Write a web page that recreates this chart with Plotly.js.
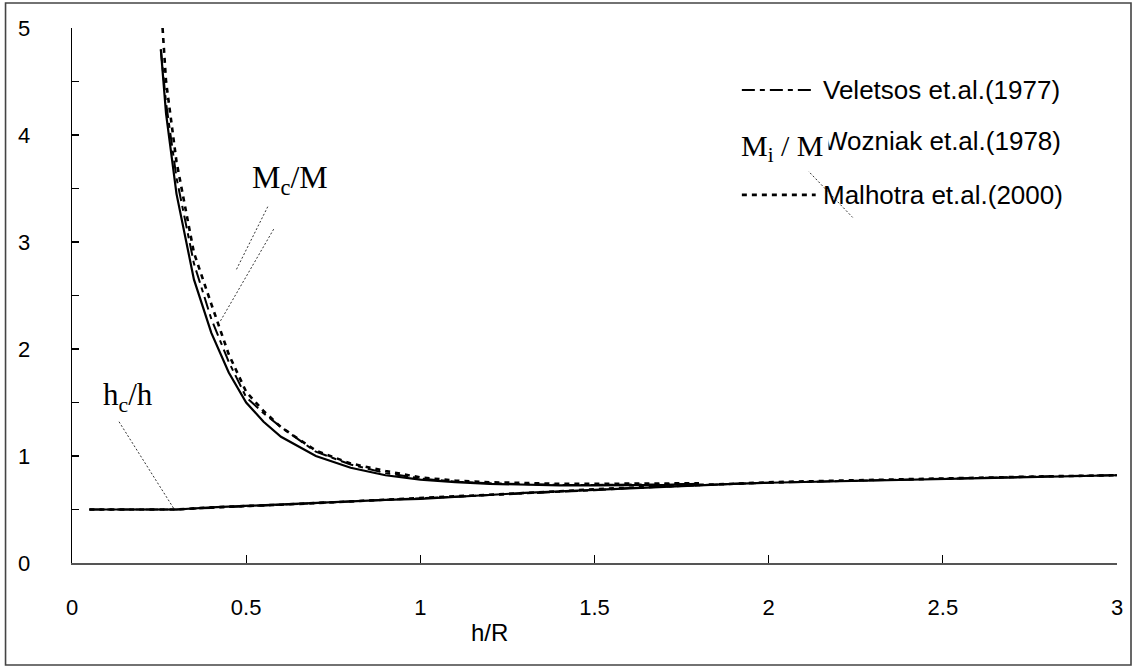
<!DOCTYPE html>
<html>
<head>
<meta charset="utf-8">
<script src="https://cdn.plot.ly/plotly-3.0.1.min.js"></script>
<style>
html,body{margin:0;padding:0;background:#fff;}
#chart{width:1135px;height:670px;}
</style>
</head>
<body>
<div id="chart"></div>
<script>
// ---- data ----
// convective mass ratio Mc/M versus h/R
const hR_conv = [0.255, 0.27, 0.30, 0.35, 0.40, 0.45, 0.50, 0.55, 0.60, 0.70, 0.80, 0.90, 1.00, 1.10, 1.20, 1.30, 1.40, 1.50, 1.60, 1.70, 1.80];
const McM_veletsos = [4.80, 4.30, 3.60, 2.80, 2.28, 1.88, 1.55, 1.40, 1.27, 1.04, 0.92, 0.84, 0.79, 0.76, 0.745, 0.735, 0.73, 0.73, 0.73, 0.735, 0.74];
const McM_wozniak  = [4.80, 4.20, 3.45, 2.65, 2.15, 1.78, 1.50, 1.32, 1.18, 1.00, 0.89, 0.82, 0.78, 0.755, 0.74, 0.73, 0.725, 0.725, 0.725, 0.73, 0.74];
const hR_conv_m = [0.26, 0.27, 0.30, 0.35, 0.40, 0.45, 0.50, 0.55, 0.60, 0.70, 0.80, 0.90, 1.00, 1.10, 1.20, 1.30, 1.40, 1.50, 1.60, 1.70, 1.80];
const McM_malhotra = [5.00, 4.50, 3.75, 2.90, 2.42, 1.95, 1.60, 1.42, 1.27, 1.05, 0.93, 0.86, 0.80, 0.77, 0.755, 0.745, 0.74, 0.74, 0.74, 0.74, 0.745];

// height ratio hc/h versus h/R
const hR_low = [0.05, 0.10, 0.20, 0.30, 0.40, 0.50, 0.60, 0.70, 0.80, 0.90, 1.00, 1.10, 1.20, 1.30, 1.40, 1.50, 1.60, 1.70, 1.80, 1.90, 2.00, 2.20, 2.40, 2.60, 2.80, 3.00];
const hch_wozniak  = [0.50, 0.50, 0.50, 0.50, 0.52, 0.535, 0.545, 0.56, 0.575, 0.59, 0.60, 0.62, 0.64, 0.655, 0.67, 0.685, 0.70, 0.715, 0.73, 0.74, 0.75, 0.765, 0.78, 0.795, 0.81, 0.82];
const hch_veletsos = [0.50, 0.50, 0.50, 0.50, 0.515, 0.53, 0.545, 0.555, 0.57, 0.585, 0.60, 0.615, 0.635, 0.65, 0.665, 0.68, 0.70, 0.715, 0.725, 0.74, 0.75, 0.765, 0.78, 0.80, 0.81, 0.82];
const hch_malhotra = [0.50, 0.50, 0.50, 0.50, 0.52, 0.53, 0.545, 0.56, 0.575, 0.59, 0.605, 0.62, 0.64, 0.655, 0.67, 0.69, 0.705, 0.72, 0.73, 0.74, 0.755, 0.77, 0.785, 0.80, 0.81, 0.82];

const legendNames = ["Veletsos et.al.(1977)", "Wozniak et.al.(1978)", "Malhotra et.al.(2000)"];
const xTicks = [0, 0.5, 1, 1.5, 2, 2.5, 3];
const xTickText = ["0", "0.5", "1", "1.5", "2", "2.5", "3"];
const yTicks = [0, 1, 2, 3, 4, 5];

// ---- styles ----
const stySolid = {color: "#000", width: 2.2, dash: "solid"};
const styDashDot = {color: "#000", width: 2, dash: "13px,5px,5px,5px"};
const styDot = {color: "#000", width: 2.6, dash: "5px,5px"};

const traces = [
  {x: hR_low, y: hch_veletsos, mode: "lines", line: styDashDot, showlegend: false},
  {x: hR_low, y: hch_malhotra, mode: "lines", line: styDot, showlegend: false},
  {x: hR_low, y: hch_wozniak, mode: "lines", line: stySolid, showlegend: false},
  {x: hR_conv, y: McM_veletsos, mode: "lines", line: styDashDot, showlegend: false},
  {x: hR_conv_m, y: McM_malhotra, mode: "lines", line: styDot, showlegend: false},
  {x: hR_conv, y: McM_wozniak, mode: "lines", line: stySolid, showlegend: false}
];

const sans = "Liberation Sans, Arial, sans-serif";
const serif = "Liberation Serif, Times New Roman, serif";
const leader = {color: "#333", width: 1, dash: "2px,2px"};

// legend rows (in data units of the plot)
const legY = [4.42, 3.94, 3.44];
const legStyles = [styDashDot, null, styDot];

const shapes = [
  // outer frame
  {type: "rect", xref: "paper", yref: "paper", x0: -0.0636, x1: 1.0134, y0: -0.1907, y1: 1.0467,
   line: {color: "#444", width: 1.6}, fillcolor: "rgba(0,0,0,0)", layer: "below"},
  // leader lines
  {type: "line", xref: "x", yref: "y", x0: 0.135, y0: 1.32, x1: 0.292, y1: 0.51, line: leader},
  {type: "line", xref: "x", yref: "y", x0: 0.562, y0: 3.33, x1: 0.470, y1: 2.73, line: leader},
  {type: "line", xref: "x", yref: "y", x0: 0.579, y0: 3.12, x1: 0.424, y1: 2.25, line: leader},
  {type: "line", xref: "x", yref: "y", x0: 2.103, y0: 3.70, x1: 2.241, y1: 3.23, line: leader}
];
legStyles.forEach((s, i) => {
  if (s) shapes.push({type: "line", xref: "x", yref: "y", x0: 1.923, x1: 2.135, y0: legY[i], y1: legY[i],
    line: {color: s.color, width: s.width, dash: s.dash}});
});

const annotations = [];
legendNames.forEach((n, i) => {
  annotations.push({text: n, xref: "x", yref: "y", x: 2.150, y: legY[i], xanchor: "left", yanchor: "middle",
    showarrow: false, font: {family: sans, size: 26, color: "#000"}});
});
annotations.push(
  {text: "M<sub>i</sub> / M", xref: "x", yref: "y", x: 2.172, y: 3.88, xanchor: "right", yanchor: "middle",
   showarrow: false, bgcolor: "#fff", borderpad: 4, font: {family: serif, size: 30, color: "#000"}},
  {text: "M<sub>c</sub>/M", xref: "x", yref: "y", x: 0.625, y: 3.58, xanchor: "center", yanchor: "middle",
   showarrow: false, font: {family: serif, size: 32, color: "#000"}},
  {text: "h<sub>c</sub>/h", xref: "x", yref: "y", x: 0.16, y: 1.55, xanchor: "center", yanchor: "middle",
   showarrow: false, font: {family: serif, size: 31, color: "#000"}},
  {text: "h/R", xref: "x", yref: "paper", x: 1.198, y: -0.13, xanchor: "center", yanchor: "middle",
   showarrow: false, font: {family: sans, size: 24, color: "#000"}}
);

const layout = {
  width: 1135, height: 670,
  margin: {l: 72, r: 18, t: 28, b: 107, pad: 0},
  paper_bgcolor: "#fff", plot_bgcolor: "#fff",
  showlegend: false,
  xaxis: {range: [0, 3], tickvals: xTicks, ticktext: xTickText, ticks: "inside", ticklen: 8, tickwidth: 1.2,
    tickcolor: "#000", showline: true, linecolor: "#555", linewidth: 1.5, showgrid: false, zeroline: false,
    tickfont: {family: sans, size: 22, color: "#000"}, ticklabelstandoff: 24, fixedrange: true},
  yaxis: {range: [0, 5], tickvals: yTicks, ticks: "inside", ticklen: 7, tickwidth: 1.2, tickcolor: "#000",
    minor: {dtick: 0.5, ticks: "inside", ticklen: 7, tickwidth: 1.2, tickcolor: "#000", showgrid: false},
    showline: true, linecolor: "#000", linewidth: 1.3, showgrid: false, zeroline: false,
    tickfont: {family: sans, size: 22, color: "#000"}, ticklabelstandoff: 36, fixedrange: true},
  shapes: shapes,
  annotations: annotations
};

Plotly.newPlot("chart", traces, layout, {displayModeBar: false, staticPlot: true});
</script>
</body>
</html>
